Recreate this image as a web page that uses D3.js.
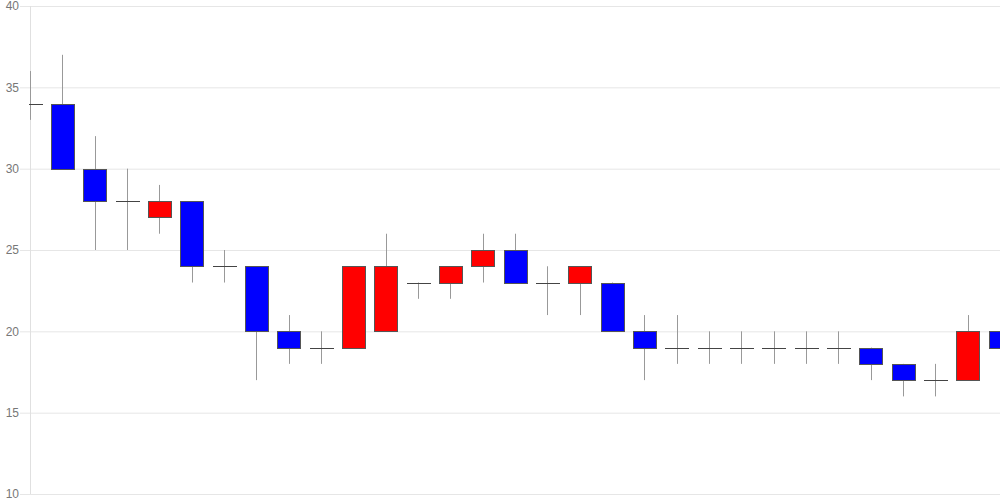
<!DOCTYPE html>
<html>
<head>
<meta charset="utf-8">
<script src="https://cdn.jsdelivr.net/npm/d3@7"></script>
<style>
  html, body { margin: 0; padding: 0; background: #fff; }
  svg { display: block; }
  .tick text { font-family: "Liberation Sans", Arial, sans-serif; font-size: 12px; fill: #777; }
</style>
</head>
<body>
<svg id="chart" width="1000" height="500"></svg>
<script>
// one entry per session, left to right
const opens  = [34, 34, 30, 28, 27, 28, 24, 24, 20, 19, 19, 20, 23, 23, 24, 25, 23, 23, 23, 20, 19, 19, 19, 19, 19, 19, 19, 18, 17, 17, 20];
const closes = [34, 30, 28, 28, 28, 24, 24, 20, 19, 19, 24, 24, 23, 24, 25, 23, 23, 24, 20, 19, 19, 19, 19, 19, 19, 19, 18, 17, 17, 20, 19];
const highs  = [36, 37, 32, 30, 29, 28, 25, 24, 21, 20, 24, 26, 23, 24, 26, 26, 24, 24, 23, 21, 21, 20, 20, 20, 20, 20, 19, 18, 18, 21, 20];
const lows   = [33, 30, 25, 25, 26, 23, 23, 17, 18, 18, 19, 20, 22, 22, 23, 23, 21, 21, 20, 17, 18, 18, 18, 18, 18, 18, 17, 16, 16, 17, 18];
const yTicks = [10, 15, 20, 25, 30, 35, 40];

const UP = "#ff0000", DOWN = "#0000ff";

const svg = d3.select("#chart"),
    margin = {top: 6, right: 0, bottom: 6, left: 30},
    width = +svg.attr("width") - margin.left - margin.right,
    height = +svg.attr("height") - margin.top - margin.bottom;

const data = opens.map((o, i) => ({i, o, c: closes[i], h: highs[i], l: lows[i]}));

const x = d3.scaleLinear().domain([0, data.length - 1]).range([0, width]);
const y = d3.scaleLinear().domain([10, 40]).range([height, 0]);
const bodyW = 23;

const g = svg.append("g").attr("transform", `translate(${margin.left},${margin.top})`);

// grid + labels
g.append("g")
    .call(d3.axisLeft(y).tickValues(yTicks).tickSize(-width).tickPadding(11))
    .call((a) => a.select(".domain").remove())
    .call((a) => a.selectAll(".tick line").attr("stroke", "#e6e6e6").attr("x1", -10).attr("x2", width));

g.append("line")
    .attr("x1", 0.5).attr("x2", 0.5)
    .attr("y1", 0).attr("y2", height)
    .attr("stroke", "#e0e0e0");

svg.append("clipPath").attr("id", "plot")
  .append("rect").attr("x", -1).attr("y", 0).attr("width", width + 1).attr("height", height);

const candles = g.append("g").attr("clip-path", "url(#plot)")
  .selectAll("g").data(data).join("g");

const px = (d) => Math.round(x(d.i)) + 0.5;

candles.append("line")
    .attr("x1", px).attr("x2", px)
    .attr("y1", (d) => y(d.h)).attr("y2", (d) => y(d.l))
    .attr("stroke", "#999");

candles.filter((d) => d.o !== d.c).append("rect")
    .attr("x", (d) => Math.round(x(d.i) - bodyW / 2) + 0.5)
    .attr("y", (d) => Math.round(y(Math.max(d.o, d.c))) + 0.5)
    .attr("width", bodyW)
    .attr("height", (d) => Math.round(y(Math.min(d.o, d.c))) - Math.round(y(Math.max(d.o, d.c))))
    .attr("fill", (d) => d.c > d.o ? UP : DOWN)
    .attr("stroke", "#555");

candles.filter((d) => d.o === d.c).append("line")
    .attr("x1", (d) => Math.round(x(d.i) - bodyW / 2))
    .attr("x2", (d) => Math.round(x(d.i) + bodyW / 2) + 1)
    .attr("y1", (d) => Math.round(y(d.o)) + 0.5)
    .attr("y2", (d) => Math.round(y(d.o)) + 0.5)
    .attr("stroke", "#444");
</script>
</body>
</html>
